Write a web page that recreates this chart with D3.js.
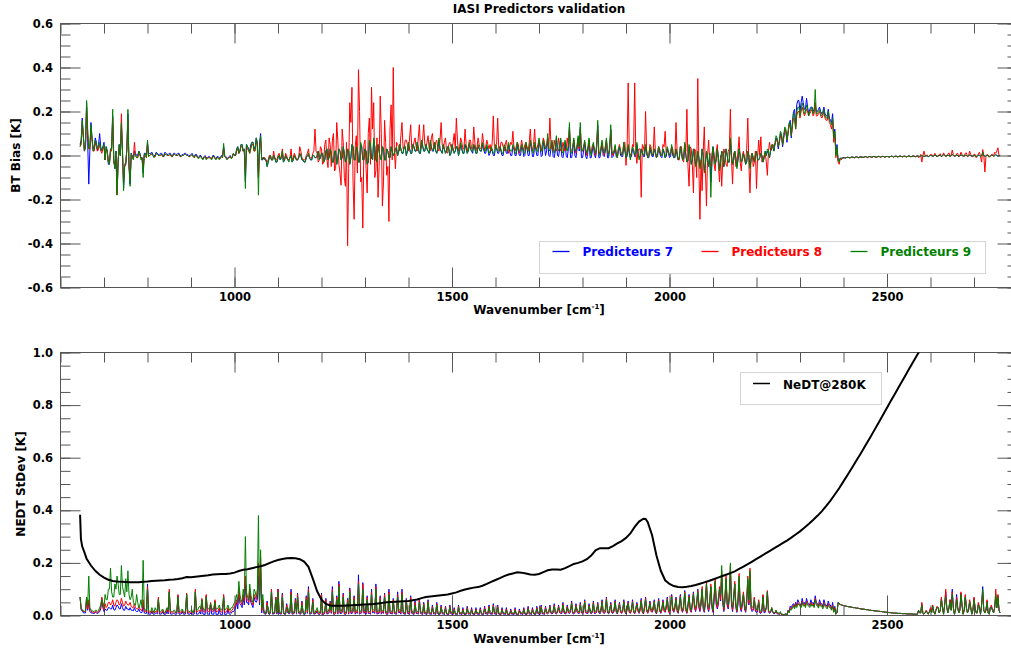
<!DOCTYPE html>
<html>
<head>
<meta charset="utf-8">
<script src="https://cdn.jsdelivr.net/npm/d3@7"></script>
<style>
  body { margin: 0; background: #fff; }
  text { font-family: "DejaVu Sans", sans-serif; font-weight: bold; }
</style>
</head>
<body>
<svg id="chart" width="1011" height="652"></svg>
<script>
// IASI channel grid (cm-1): main channels every 5 cm-1, plus the channels half-way between them
const wavenumbers = d3.range(645, 2761, 5);
const wavenumbersHalf = d3.range(647.5, 2760, 5);

const seriesNames = ["Predicteurs 7", "Predicteurs 8", "Predicteurs 9"];
const seriesColors = ["#0000ff", "#ff0000", "#008000"];

// ---- BT bias [K], main channels ----
const biasP7 = [
  0.05,0.17,0.02,0.24,-0.13,0.15,0.03,0.08,0.02,0.1,0.02,0.06,
  0.04,-0.04,0.03,0.18,-0.06,-0.17,0.05,0.14,-0.15,-0.04,0.19,-0.13,
  0.0,0.02,0.0,0.02,-0.01,-0.08,0.01,0.06,
  0.01,0.015,0.0,0.015,0.005,0.01,0.0,0.015,0.005,0.01,
  0.0,0.01,0.005,0.01,0.0,0.005,0.01,0.005,0.0,0.005,
  0.0,0.005,-0.005,0.0,-0.01,-0.005,-0.01,-0.005,-0.01,0.0,
  -0.01,-0.005,-0.01,0.0,0.04,-0.005,-0.01,0.0,-0.005,
  0.0,0.03,0.01,0.05,0.02,-0.12,0.04,0.02,0.06,0.03,0.08,-0.1,0.1,-0.02,
  -0.02,-0.05,-0.01,-0.02,0.0,-0.03,-0.01,-0.02,0.01,-0.02,-0.01,-0.02,
  0.0,-0.02,-0.01,-0.02,0.01,-0.02,-0.03,-0.01,0.0,-0.02,0.0,-0.01,
  0.0,-0.02,0.01,-0.03,0.02,-0.02,0.03,-0.03,0.02,-0.04,
  0.03,-0.02,0.04,-0.03,0.03,-0.04,0.05,-0.02,0.04,-0.03,
  0.05,-0.02,0.03,-0.04,0.06,-0.01,0.07,-0.02,0.05,-0.01,
  0.04,-0.02,0.03,-0.01,0.04,0.0,
  0.03,0.0,0.05,0.01,0.04,0.0,0.05,0.01,0.05,0.02,
  0.06,0.01,0.06,0.02,0.05,0.02,0.06,0.02,0.06,0.01,
  0.07,0.02,0.05,0.01,0.04,0.0,0.05,0.01,0.04,0.0,
  0.05,0.01,0.05,0.01,0.05,0.02,0.05,0.01,0.04,0.02,
  0.05,0.01,0.04,0.0,
  0.03,0.0,0.04,0.01,0.04,0.0,0.04,0.01,0.05,0.0,
  0.04,0.0,0.05,0.0,0.04,-0.005,0.05,0.0,0.06,-0.005,
  0.05,0.0,0.07,-0.005,0.06,0.0,
  0.08,-0.005,0.06,-0.01,0.08,-0.005,0.07,-0.01,0.06,-0.01,
  0.13,-0.01,0.07,-0.01,0.08,0.13,-0.01,0.06,-0.015,0.07,
  -0.01,0.05,-0.01,0.14,-0.01,0.06,-0.005,0.07,-0.01,0.12,
  -0.005,
  0.04,-0.01,0.04,-0.005,0.05,-0.01,0.04,-0.01,0.03,-0.005,
  0.05,-0.01,0.03,-0.005,0.04,-0.01,0.03,-0.005,0.03,-0.01,
  0.04,-0.005,0.03,-0.01,0.03,-0.01,0.04,-0.01,0.03,-0.02,
  0.04,-0.02,0.05,-0.03,0.04,-0.04,0.03,-0.04,0.02,
  -0.05,0.03,-0.07,0.02,-0.05,-0.12,0.04,-0.04,0.03,-0.06,
  0.02,-0.05,0.03,-0.03,0.06,-0.04,0.02,-0.05,0.03,-0.03,
  0.01,-0.04,0.02,-0.05,0.01,-0.03,0.02,-0.02,0.01,-0.03,
  0.02,
  0.02,-0.01,0.04,0.02,0.08,0.03,0.1,0.04,0.12,0.06,
  0.14,0.08,0.2,0.13,0.25,0.2,0.27,0.21,0.26,0.19,
  0.22,0.2,0.23,0.2,0.22,0.19,0.22,0.18,0.21,0.16,
  0.19,0.12,0.05,-0.02,
  -0.012,-0.01,-0.011,-0.008,-0.01,-0.007,-0.01,-0.006,-0.009,-0.006,
  -0.009,-0.005,-0.008,-0.005,-0.008,-0.004,-0.008,-0.004,-0.007,-0.004,
  -0.007,-0.004,-0.007,-0.003,-0.007,-0.003,-0.006,-0.002,-0.006,-0.003,
  -0.006,-0.002,-0.006,-0.002,-0.005,-0.002,-0.005,0.0,-0.005,-0.001,
  -0.005,0.0,-0.004,0.002,-0.004,0.0,-0.004,0.003,-0.003,0.001,
  -0.004,0.004,-0.003,0.002,-0.004,0.003,-0.002,0.001,-0.004,0.002,
  -0.003,0.0,-0.004,0.002,-0.004,0.01,-0.003,0.002,-0.005,0.001,
  -0.004,0.004,-0.003,0.002
];

const biasP8 = [
  0.04,0.15,0.02,0.22,0.03,0.12,0.02,0.06,0.02,0.05,0.01,0.04,
  0.03,-0.03,0.02,0.17,-0.05,-0.18,0.04,0.19,-0.12,-0.03,0.16,-0.11,
  -0.01,0.06,-0.01,0.01,-0.01,-0.06,0.0,0.05,
  0.0,0.005,-0.005,0.01,0.0,0.0,-0.005,0.005,0.0,0.0,
  -0.005,0.005,0.0,0.0,-0.005,0.0,0.005,0.0,-0.005,0.0,
  -0.005,0.0,-0.01,-0.005,-0.01,-0.01,-0.015,-0.01,-0.01,-0.005,
  -0.01,-0.01,-0.015,-0.005,0.03,-0.01,-0.01,-0.005,-0.01,
  0.0,0.02,0.01,0.04,0.02,-0.08,0.03,0.01,0.05,0.02,0.07,-0.1,0.08,-0.01,
  -0.01,-0.03,0.0,-0.02,0.02,-0.02,0.0,-0.01,0.03,-0.02,0.0,-0.02,
  0.03,-0.01,0.0,-0.02,0.04,-0.01,-0.02,0.0,0.03,-0.01,0.01,0.12,
  0.01,-0.02,0.03,-0.03,0.07,-0.055,0.05,0.07,-0.07,0.15,
  -0.04,-0.135,0.06,-0.14,-0.41,0.24,0.31,-0.29,0.09,0.39,
  -0.12,-0.33,0.07,-0.17,0.17,0.31,0.24,-0.07,-0.19,0.27,
  -0.23,0.16,-0.09,-0.3,0.23,0.4,
  -0.06,0.05,0.02,0.15,0.03,0.07,
  0.02,0.14,0.03,0.08,0.02,0.14,0.04,0.14,0.03,0.09,
  0.02,0.1,0.03,0.07,0.02,0.15,0.03,0.08,0.01,0.06,
  0.02,0.1,0.17,0.02,0.08,0.03,0.12,0.02,0.07,0.03,
  0.13,0.02,0.08,0.03,0.1,0.02,0.07,0.03,
  0.02,0.18,0.03,0.17,0.02,0.06,0.02,0.07,0.01,0.06,
  0.11,0.02,0.06,0.01,0.07,0.02,0.06,0.02,0.12,0.02,
  0.12,0.03,0.07,0.02,0.08,0.03,
  0.08,0.17,0.03,0.07,0.02,0.08,0.02,0.06,0.02,0.08,
  0.12,0.02,0.07,0.01,0.08,0.12,0.02,0.06,0.0,0.07,
  0.01,0.05,0.0,0.12,0.01,0.06,0.0,0.07,0.01,0.11,
  0.0,
  0.04,-0.01,0.05,0.0,0.06,-0.045,0.33,0.0,0.05,0.33,
  -0.036,0.03,-0.19,0.04,0.2,-0.01,0.05,0.0,0.13,-0.01,
  0.04,0.0,0.05,0.11,0.02,0.0,0.04,-0.01,0.15,-0.02,
  0.04,-0.02,0.05,0.21,-0.14,0.03,-0.17,0.02,0.35,
  -0.29,-0.16,0.13,-0.23,0.07,-0.05,0.03,-0.07,0.05,-0.12,
  -0.14,0.03,-0.04,0.02,0.21,-0.13,0.02,-0.04,0.085,-0.07,
  0.02,-0.03,0.17,-0.17,0.01,-0.03,-0.15,0.07,0.085,-0.02,
  0.01,
  -0.09,0.06,0.03,0.04,0.07,0.04,0.09,0.05,0.12,0.07,
  0.14,0.09,0.17,0.12,0.2,0.17,0.22,0.18,0.21,0.18,
  0.2,0.18,0.24,0.18,0.2,0.17,0.2,0.16,0.19,0.14,
  0.16,0.1,0.03,-0.04,
  -0.02,-0.012,-0.01,-0.008,-0.012,-0.007,-0.01,-0.006,-0.011,-0.006,
  -0.009,-0.005,-0.01,-0.005,-0.008,-0.004,-0.009,-0.004,-0.008,-0.004,
  -0.008,-0.004,-0.007,-0.003,-0.008,-0.003,-0.007,-0.002,-0.007,-0.003,
  -0.007,-0.002,-0.006,-0.002,-0.006,0.0,-0.006,-0.03,0.02,-0.003,
  -0.005,0.005,-0.004,0.01,-0.005,0.004,-0.006,0.012,-0.004,0.006,
  -0.004,0.025,-0.003,0.008,-0.006,0.015,-0.003,0.01,-0.005,0.02,
  -0.004,0.006,-0.01,0.008,-0.005,0.027,-0.075,0.005,-0.008,0.003,
  -0.005,0.01,0.035,-0.002
];

const biasP9 = [
  0.04,0.16,0.02,0.25,0.03,0.14,0.02,0.07,0.03,0.06,0.02,0.05,
  0.04,-0.03,0.03,0.21,-0.06,-0.18,0.05,0.15,-0.16,-0.04,0.21,-0.14,
  -0.01,0.01,-0.01,0.02,-0.02,-0.1,0.01,0.07,
  0.0,0.01,-0.01,0.01,0.0,0.005,-0.005,0.01,0.0,0.005,
  -0.005,0.005,0.0,0.005,-0.005,0.0,0.005,0.0,-0.005,0.0,
  -0.005,0.0,-0.01,-0.005,-0.015,-0.01,-0.02,-0.01,-0.015,-0.005,
  -0.015,-0.01,-0.02,-0.005,0.055,-0.01,-0.015,-0.005,-0.01,
  0.0,0.03,0.01,0.05,0.02,-0.15,0.04,0.01,0.06,0.02,0.08,-0.18,0.09,-0.01,
  -0.02,-0.05,-0.01,-0.02,0.0,-0.03,-0.01,-0.02,0.02,-0.02,-0.01,-0.03,
  0.0,-0.02,-0.01,-0.02,0.01,-0.02,-0.03,-0.01,0.01,-0.02,0.0,-0.01,
  0.0,-0.02,0.01,-0.03,0.02,-0.02,0.03,-0.03,0.02,-0.04,
  0.03,-0.02,0.04,-0.03,0.03,-0.04,0.05,-0.02,0.04,-0.03,
  0.06,-0.02,0.03,-0.04,0.07,-0.01,0.08,-0.02,0.05,-0.01,
  0.04,-0.02,0.03,-0.01,0.04,0.0,
  0.03,0.0,0.05,0.01,0.04,0.0,
  0.06,0.01,0.05,0.02,0.06,0.01,0.07,0.02,0.05,0.02,
  0.07,0.02,0.06,0.01,0.08,0.02,0.05,0.01,0.04,0.0,
  0.05,0.01,0.04,0.0,0.06,0.01,0.05,0.01,0.06,0.02,
  0.05,0.01,0.05,0.02,0.06,0.02,0.05,0.01,
  0.04,0.01,0.05,0.02,0.04,0.01,0.05,0.02,0.06,0.02,
  0.05,0.01,0.06,0.02,0.05,0.01,0.06,0.02,0.07,0.02,
  0.06,0.02,0.08,0.02,0.07,0.03,
  0.1,0.02,0.07,0.01,0.09,0.02,0.08,0.01,0.07,0.02,
  0.15,0.01,0.08,0.02,0.09,0.15,0.02,0.07,0.01,0.08,
  0.0,0.06,0.01,0.16,0.0,0.07,0.01,0.08,0.0,0.14,
  0.01,
  0.05,-0.01,0.04,0.0,0.06,-0.01,0.05,-0.02,0.04,0.0,
  0.06,-0.02,0.03,0.0,0.05,-0.01,0.04,0.0,0.03,-0.01,
  0.04,0.0,0.03,-0.01,0.04,0.0,0.05,-0.01,0.03,-0.02,
  0.04,-0.02,0.06,-0.03,0.05,-0.04,0.03,-0.05,0.02,
  -0.06,0.03,-0.08,0.02,-0.05,-0.19,0.04,-0.04,0.03,-0.07,
  0.02,-0.05,0.03,-0.03,0.08,-0.04,0.02,-0.06,0.03,-0.03,
  0.01,-0.04,0.02,-0.06,0.01,-0.03,0.02,-0.02,0.01,-0.03,
  0.02,
  0.03,-0.01,0.05,0.02,0.09,0.04,0.11,0.05,0.13,0.07,
  0.15,0.09,0.19,0.12,0.22,0.18,0.24,0.19,0.23,0.18,
  0.21,0.19,0.3,0.19,0.21,0.18,0.21,0.17,0.2,0.15,
  0.17,0.11,0.04,-0.03,
  -0.015,-0.01,-0.012,-0.008,-0.011,-0.007,-0.01,-0.006,-0.01,-0.006,
  -0.009,-0.005,-0.009,-0.005,-0.008,-0.004,-0.008,-0.004,-0.008,-0.004,
  -0.008,-0.004,-0.007,-0.003,-0.007,-0.003,-0.007,-0.002,-0.006,-0.003,
  -0.007,-0.002,-0.006,-0.002,-0.006,-0.002,-0.005,0.0,-0.005,-0.001,
  -0.005,0.0,-0.004,0.002,-0.004,0.0,-0.004,0.003,-0.003,0.001,
  -0.004,0.004,-0.003,0.002,-0.004,0.003,-0.002,0.001,-0.004,0.002,
  -0.003,0.0,-0.004,0.002,-0.004,0.015,-0.003,0.002,-0.006,0.001,
  -0.004,0.005,-0.003,0.002
];

// ---- BT bias [K], half-step channels ----
const biasP7Half = [
  0.07,0.09,0.04,0.06,0.02,0.08,0.04,0.06,0.05,0.04,0.04,
  -0.02,0.02,-0.04,0.03,-0.02,0.02,-0.03,0.0,0.02,-0.05,0.03,-0.05,
  0.01,-0.01,0.01,0.0,0.01,-0.01,0.01,0.0,
  0.005,0.01,0.005,0.0,0.01,0.005,0.01,0.0,0.01,0.005,
  0.01,0.0,0.01,0.005,0.01,0.0,0.005,0.01,0.005,0.0,
  0.01,-0.005,0.005,-0.01,0.0,-0.015,0.0,-0.01,-0.005,-0.015,
  0.0,-0.015,-0.005,-0.01,-0.005,0.0,-0.015,-0.005,-0.01,
  0.01,0.0,0.04,0.02,0.05,0.03,0.05,0.03,0.05,0.06,0.04,0.06,0.05,-0.02,
  -0.01,-0.02,-0.03,0.0,-0.02,-0.01,-0.03,0.0,-0.01,-0.03,0.0,-0.02,
  -0.01,-0.03,0.0,-0.02,-0.01,0.0,-0.02,-0.03,0.0,-0.01,-0.02,0.0,
  -0.01,0.02,-0.01,0.01,-0.02,0.03,-0.01,0.01,-0.03,0.02,
  -0.01,0.02,-0.01,0.01,-0.02,0.02,-0.01,0.04,-0.02,0.03,
  -0.03,0.04,-0.02,0.02,-0.03,0.05,-0.02,0.04,-0.03,0.02,
  -0.02,0.03,-0.02,0.02,-0.01,0.02,
  0.01,0.03,0.02,0.03,0.01,0.04,0.02,0.03,0.01,0.04,
  0.02,0.03,0.01,0.04,0.02,0.03,0.01,0.04,0.02,0.02,
  0.03,0.03,0.01,0.03,0.02,0.03,0.01,0.03,0.02,0.03,
  0.02,0.03,0.01,0.03,0.02,0.03,0.01,0.03,0.01,0.03,
  0.02,0.03,0.01,0.03,
  0.01,0.02,0.0,0.03,0.01,0.02,0.0,0.03,0.01,0.02,
  0.0,0.03,0.0,0.02,0.0,0.03,0.0,0.03,0.0,0.04,
  -0.005,0.03,0.0,0.04,0.0,0.04,
  0.02,0.0,0.03,-0.005,0.02,0.0,0.03,-0.005,0.02,0.0,
  0.03,-0.01,0.02,0.0,0.03,0.02,-0.01,0.02,-0.005,0.02,
  -0.01,0.02,0.0,0.03,-0.01,0.02,0.0,0.02,-0.01,0.03,
  -0.01,
  0.01,-0.005,0.02,0.0,-0.005,0.02,-0.005,0.01,-0.005,0.02,
  -0.005,0.01,-0.01,0.01,-0.005,0.01,-0.01,0.01,-0.005,0.01,
  -0.005,0.01,-0.01,0.01,-0.005,0.01,-0.005,0.0,-0.01,0.0,
  -0.015,0.01,-0.015,0.0,-0.025,0.0,-0.025,-0.01,-0.03,
  -0.01,-0.03,0.0,-0.04,-0.02,0.01,-0.03,0.0,-0.02,-0.01,
  -0.03,0.01,-0.02,0.0,-0.03,0.0,-0.02,-0.01,-0.02,0.0,
  -0.02,-0.01,-0.03,0.0,-0.02,-0.01,0.0,-0.02,-0.01,0.0,
  -0.01,
  0.0,0.01,0.02,0.04,0.05,0.07,0.06,0.09,0.08,0.11,
  0.1,0.16,0.15,0.21,0.23,0.25,0.24,0.24,0.21,0.22,
  0.21,0.22,0.21,0.2,0.21,0.2,0.2,0.19,0.18,0.17,
  0.15,0.09,0.01,-0.02,
  -0.012,-0.011,-0.01,-0.009,-0.009,-0.008,-0.008,-0.007,-0.008,-0.007,
  -0.007,-0.007,-0.006,-0.006,-0.006,-0.006,-0.006,-0.006,-0.005,-0.005,
  -0.005,-0.005,-0.005,-0.005,-0.004,-0.004,-0.004,-0.004,-0.004,-0.004,
  -0.004,-0.004,-0.003,-0.004,-0.003,-0.003,-0.003,-0.002,-0.003,-0.002,
  -0.002,-0.002,-0.001,-0.002,-0.001,-0.002,0.0,-0.001,0.0,-0.001,
  0.0,-0.001,0.0,-0.001,0.0,-0.001,0.0,-0.002,0.0,-0.001,
  -0.001,-0.002,-0.001,-0.002,0.0,-0.002,-0.001,-0.003,-0.001,-0.002,
  0.0,-0.001,0.0,-0.001
];

const biasP8Half = [
  0.05,0.08,0.04,0.1,0.03,0.07,0.02,0.04,0.03,0.02,0.03,
  -0.02,0.02,-0.03,0.02,-0.03,0.01,-0.02,0.0,0.01,-0.04,0.02,-0.04,
  0.0,-0.01,0.0,-0.01,0.0,-0.01,0.0,-0.01,
  -0.005,0.005,0.0,-0.005,0.005,0.0,0.005,-0.005,0.005,0.0,
  0.005,-0.005,0.005,0.0,0.005,-0.005,0.0,0.005,0.0,-0.005,
  0.005,-0.01,0.0,-0.01,-0.005,-0.015,-0.005,-0.01,-0.01,-0.015,
  -0.005,-0.015,-0.01,-0.01,-0.01,-0.005,-0.015,-0.01,-0.01,
  0.01,0.0,0.03,0.02,0.04,0.02,0.04,0.02,0.03,0.05,0.02,0.04,0.03,-0.02,
  -0.01,-0.02,-0.02,0.0,-0.02,-0.01,-0.02,0.01,-0.01,-0.02,0.01,-0.02,
  -0.01,-0.02,0.01,-0.02,-0.01,0.02,-0.02,-0.02,0.01,-0.01,-0.01,0.02,
  0.02,-0.03,0.04,-0.04,0.05,-0.02,0.08,-0.05,0.1,-0.06,
  0.07,-0.08,0.12,-0.1,0.06,-0.06,0.15,-0.12,0.04,-0.08,
  0.2,-0.1,0.05,-0.06,0.1,-0.04,0.12,-0.1,0.08,-0.05,
  0.1,-0.12,0.06,-0.05,0.12,-0.02,
  0.02,0.06,0.04,0.09,0.03,0.07,0.05,0.08,0.03,0.06,
  0.04,0.08,0.03,0.07,0.05,0.06,0.03,0.08,0.04,0.06,
  0.03,0.07,0.05,0.06,0.02,0.05,0.04,0.06,0.03,0.07,
  0.04,0.06,0.03,0.05,0.04,0.07,0.03,0.06,0.04,0.05,
  0.03,0.06,0.04,0.05,
  0.05,0.06,0.04,0.05,0.03,0.06,0.04,0.05,0.03,0.04,
  0.05,0.03,0.04,0.05,0.03,0.04,0.05,0.03,0.06,0.04,
  0.05,0.03,0.05,0.04,0.05,0.06,
  0.04,0.03,0.05,0.02,0.04,0.03,0.04,0.02,0.04,0.03,
  0.04,0.02,0.04,0.03,0.04,0.03,0.02,0.04,0.02,0.03,
  0.02,0.04,0.02,0.04,0.01,0.03,0.02,0.04,0.01,0.03,
  0.02,
  0.02,0.01,0.03,0.02,0.01,0.06,0.03,0.02,0.01,0.04,
  0.01,0.02,0.03,0.05,0.01,0.02,0.0,0.04,0.01,0.02,
  0.01,0.03,0.0,0.04,0.01,0.02,0.01,0.03,0.0,0.02,
  -0.02,0.04,-0.03,0.02,-0.05,0.04,-0.04,0.03,-0.1,
  -0.05,-0.02,0.02,-0.06,0.0,-0.03,0.01,-0.04,0.02,-0.05,
  0.0,-0.02,0.01,-0.05,0.03,-0.02,0.01,-0.05,0.02,-0.03,
  0.0,-0.02,0.03,-0.04,0.0,-0.05,0.02,-0.01,0.0,-0.03,
  0.0,
  -0.03,0.02,0.02,0.05,0.05,0.07,0.06,0.09,0.08,0.11,
  0.1,0.13,0.13,0.17,0.18,0.2,0.2,0.2,0.19,0.2,
  0.19,0.21,0.19,0.18,0.19,0.18,0.18,0.17,0.16,0.15,
  0.12,0.06,-0.01,-0.03,
  -0.014,-0.011,-0.011,-0.009,-0.01,-0.008,-0.009,-0.007,-0.008,-0.007,
  -0.008,-0.007,-0.006,-0.007,-0.006,-0.006,-0.007,-0.006,-0.005,-0.006,
  -0.005,-0.006,-0.005,-0.005,-0.004,-0.005,-0.004,-0.005,-0.004,-0.004,
  -0.005,-0.004,-0.003,-0.004,-0.003,-0.004,-0.01,0.005,-0.003,0.0,
  0.003,-0.002,0.006,-0.002,0.002,-0.003,0.008,-0.001,0.003,-0.002,
  0.012,-0.001,0.004,-0.003,0.01,-0.001,0.005,-0.004,0.012,-0.002,
  0.004,-0.006,0.005,-0.004,0.015,-0.03,0.002,-0.005,0.002,-0.003,
  0.006,0.015,0.02,-0.001
];

const biasP9Half = [
  0.06,0.09,0.05,0.12,0.04,0.08,0.03,0.05,0.04,0.03,0.04,
  -0.02,0.02,-0.04,0.03,-0.02,0.02,-0.03,0.0,0.02,-0.05,0.03,-0.05,
  0.01,-0.02,0.0,-0.01,0.01,-0.01,0.0,-0.01,
  -0.005,0.005,0.0,-0.005,0.005,0.0,0.005,-0.005,0.005,0.0,
  0.005,-0.005,0.005,0.0,0.005,-0.005,0.0,0.005,0.0,-0.005,
  0.005,-0.01,0.0,-0.015,-0.005,-0.02,-0.005,-0.015,-0.01,-0.02,
  -0.005,-0.02,-0.01,-0.015,-0.01,-0.005,-0.02,-0.01,-0.015,
  0.01,0.0,0.04,0.02,0.05,0.03,0.05,0.03,0.04,0.06,0.03,0.05,0.04,-0.02,
  -0.01,-0.02,-0.03,0.0,-0.02,-0.01,-0.03,0.0,-0.01,-0.03,0.0,-0.02,
  -0.01,-0.03,0.0,-0.02,-0.01,0.0,-0.02,-0.03,0.0,-0.01,-0.02,0.0,
  -0.01,0.02,-0.01,0.01,-0.02,0.03,-0.01,0.01,-0.03,0.02,
  -0.01,0.02,-0.01,0.01,-0.02,0.02,-0.01,0.04,-0.02,0.03,
  -0.03,0.04,-0.02,0.02,-0.03,0.05,-0.02,0.04,-0.03,0.02,
  -0.02,0.03,-0.02,0.02,-0.01,0.02,
  0.01,0.04,0.02,0.03,0.01,0.04,0.02,0.03,0.01,0.04,
  0.02,0.04,0.01,0.05,0.02,0.03,0.01,0.04,0.03,0.02,
  0.04,0.03,0.01,0.03,0.02,0.04,0.01,0.03,0.02,0.04,
  0.02,0.03,0.01,0.04,0.02,0.03,0.02,0.04,0.01,0.03,
  0.02,0.04,0.02,0.03,
  0.02,0.03,0.01,0.04,0.02,0.03,0.01,0.04,0.02,0.03,
  0.02,0.04,0.01,0.03,0.02,0.04,0.01,0.04,0.02,0.05,
  0.01,0.04,0.02,0.05,0.02,0.05,
  0.04,0.03,0.05,0.02,0.04,0.03,0.05,0.02,0.04,0.03,
  0.05,0.02,0.04,0.03,0.05,0.04,0.02,0.04,0.03,0.04,
  0.02,0.04,0.03,0.05,0.02,0.04,0.03,0.04,0.02,0.05,
  0.02,
  0.02,0.01,0.03,0.02,0.01,0.03,0.01,0.02,0.01,0.03,
  0.01,0.02,0.0,0.02,0.01,0.02,0.0,0.02,0.01,0.02,
  0.01,0.02,0.0,0.02,0.01,0.02,0.01,0.01,0.0,0.01,
  -0.01,0.02,-0.01,0.01,-0.02,0.01,-0.02,0.0,-0.03,
  -0.01,-0.03,0.0,-0.04,-0.02,0.01,-0.03,0.0,-0.02,-0.01,
  -0.03,0.01,-0.02,0.0,-0.03,0.0,-0.02,-0.01,-0.02,0.0,
  -0.02,-0.01,-0.03,0.0,-0.02,-0.01,0.0,-0.02,-0.01,0.0,
  -0.01,
  0.0,0.02,0.03,0.05,0.06,0.08,0.07,0.1,0.09,0.12,
  0.11,0.15,0.14,0.19,0.2,0.22,0.21,0.22,0.2,0.21,
  0.2,0.22,0.2,0.19,0.2,0.19,0.19,0.18,0.17,0.16,
  0.14,0.08,0.0,-0.02,
  -0.012,-0.011,-0.01,-0.009,-0.009,-0.008,-0.008,-0.007,-0.008,-0.007,
  -0.007,-0.007,-0.006,-0.006,-0.006,-0.006,-0.006,-0.006,-0.005,-0.005,
  -0.005,-0.005,-0.005,-0.005,-0.004,-0.004,-0.004,-0.004,-0.004,-0.004,
  -0.004,-0.004,-0.003,-0.004,-0.003,-0.003,-0.003,-0.002,-0.003,-0.002,
  -0.002,-0.002,-0.001,-0.002,-0.001,-0.002,0.0,-0.001,0.0,-0.001,
  0.0,-0.001,0.0,-0.001,0.0,-0.001,0.0,-0.002,0.0,-0.001,
  -0.001,-0.002,-0.001,-0.002,0.0,-0.002,-0.001,-0.003,-0.001,-0.002,
  0.0,-0.001,0.0,-0.001
];

// ---- NEDT standard deviation [K], main channels ----
const stdP7 = [
  0.07,0.02,0.01,0.06,0.05,0.01,0.008,0.012,0.008,0.015,0.065,0.015,
  0.02,0.03,0.025,0.04,0.02,0.04,0.025,0.045,0.02,0.035,0.025,0.03,
  0.02,0.03,0.015,0.025,0.01,0.04,0.008,0.12,
  0.005,0.015,0.004,0.01,0.06,0.005,0.015,0.004,0.02,0.09,
  0.005,0.01,0.004,0.075,0.005,0.015,0.004,0.08,0.005,0.01,
  0.004,0.09,0.005,0.015,0.06,0.005,0.075,0.005,0.045,0.005,
  0.055,0.005,0.025,0.004,0.075,0.004,0.025,0.004,0.015,
  0.02,0.05,0.09,0.04,0.07,0.12,0.05,0.09,0.04,0.07,0.05,0.15,0.18,0.05,
  0.006,0.055,0.004,0.1,0.006,0.07,0.1,0.006,0.085,0.004,0.045,0.006,
  0.1,0.006,0.065,0.085,0.006,0.055,0.004,0.075,0.11,0.006,0.065,0.006,
  0.015,0.004,0.085,0.004,0.065,0.008,0.055,0.11,0.004,0.075,
  0.13,0.008,0.085,0.004,0.065,0.105,0.008,0.075,0.012,0.155,
  0.008,0.125,0.012,0.075,0.008,0.1,0.012,0.12,0.008,0.075,
  0.012,0.085,0.004,0.1,0.008,0.065,
  0.006,0.09,0.012,0.1,0.006,0.065,0.008,0.075,0.006,0.055,
  0.008,0.065,0.006,0.05,0.006,0.06,0.006,0.04,0.006,0.05,
  0.003,0.04,0.006,0.035,0.003,0.04,0.006,0.03,0.003,0.04,
  0.006,0.03,0.003,0.035,0.006,0.03,0.003,0.03,0.006,0.03,
  0.003,0.035,0.006,0.04,
  0.006,0.045,0.006,0.04,0.003,0.03,0.006,0.03,0.003,0.025,
  0.006,0.03,0.003,0.025,0.006,0.03,0.003,0.035,0.006,0.03,
  0.003,0.035,0.006,0.04,0.006,0.035,
  0.006,0.04,0.006,0.045,0.006,0.04,0.008,0.05,0.006,0.04,
  0.008,0.055,0.006,0.045,0.008,0.05,0.006,0.06,0.008,0.045,
  0.006,0.055,0.008,0.05,0.006,0.06,0.008,0.07,0.006,0.05,
  0.008,
  0.06,0.006,0.05,0.008,0.06,0.006,0.055,0.008,0.06,0.006,
  0.05,0.008,0.065,0.006,0.07,0.008,0.055,0.012,0.06,0.006,
  0.065,0.008,0.06,0.012,0.07,0.008,0.08,0.012,0.07,0.008,
  0.08,0.012,0.095,0.008,0.08,0.012,0.09,0.015,0.1,
  0.015,0.1,0.012,0.12,0.015,0.11,0.012,0.13,0.025,0.105,
  0.15,0.015,0.14,0.025,0.17,0.015,0.12,0.012,0.14,0.015,
  0.085,0.012,0.13,0.16,0.015,0.065,0.012,0.055,0.008,0.075,
  0.012,
  0.09,0.008,0.025,0.006,0.018,0.006,0.008,0.003,0.003,0.002,
  0.015,0.03,0.045,0.05,0.06,0.045,0.065,0.05,0.065,0.045,
  0.06,0.05,0.075,0.045,0.06,0.045,0.06,0.04,0.055,0.04,
  0.05,0.035,0.01,0.045,
  0.04,0.038,0.036,0.034,0.033,0.031,0.03,0.028,0.027,0.025,
  0.024,0.023,0.022,0.02,0.019,0.018,0.017,0.016,0.015,0.014,
  0.013,0.012,0.011,0.01,0.009,0.009,0.008,0.008,0.007,0.007,
  0.006,0.006,0.006,0.005,0.005,0.005,0.01,0.045,0.005,0.018,
  0.005,0.025,0.038,0.005,0.032,0.01,0.065,0.005,0.09,0.01,
  0.06,0.1,0.005,0.08,0.01,0.085,0.005,0.075,0.01,0.055,
  0.005,0.065,0.01,0.045,0.005,0.11,0.01,0.055,0.005,0.035,
  0.01,0.07,0.075,0.01
];

const stdP8 = [
  0.07,0.02,0.015,0.07,0.06,0.015,0.01,0.015,0.01,0.02,0.07,0.02,
  0.03,0.05,0.04,0.06,0.035,0.06,0.04,0.065,0.035,0.055,0.04,0.05,
  0.03,0.045,0.025,0.035,0.02,0.06,0.015,0.11,
  0.01,0.02,0.008,0.015,0.07,0.01,0.02,0.008,0.025,0.1,
  0.01,0.015,0.008,0.08,0.01,0.02,0.008,0.085,0.01,0.015,
  0.008,0.1,0.015,0.02,0.065,0.015,0.08,0.015,0.05,0.015,
  0.06,0.015,0.03,0.012,0.08,0.012,0.03,0.01,0.02,
  0.03,0.06,0.1,0.05,0.08,0.15,0.06,0.1,0.05,0.08,0.06,0.2,0.22,0.06,
  0.008,0.05,0.005,0.1,0.008,0.07,0.1,0.008,0.08,0.005,0.04,0.008,
  0.09,0.008,0.06,0.08,0.008,0.05,0.005,0.07,0.1,0.008,0.06,0.008,
  0.02,0.005,0.08,0.005,0.06,0.01,0.05,0.1,0.005,0.07,
  0.12,0.01,0.08,0.005,0.06,0.1,0.01,0.07,0.015,0.13,
  0.01,0.12,0.015,0.07,0.01,0.09,0.015,0.11,0.01,0.07,
  0.015,0.08,0.005,0.09,0.01,0.06,
  0.008,0.08,0.015,0.09,0.008,0.06,0.01,0.07,0.008,0.05,
  0.01,0.06,0.008,0.045,0.008,0.055,0.008,0.035,0.008,0.045,
  0.004,0.035,0.008,0.03,0.004,0.035,0.008,0.025,0.004,0.035,
  0.008,0.025,0.004,0.03,0.008,0.025,0.004,0.025,0.008,0.025,
  0.004,0.03,0.008,0.035,
  0.008,0.04,0.008,0.035,0.004,0.025,0.008,0.025,0.004,0.02,
  0.008,0.025,0.004,0.02,0.008,0.025,0.004,0.03,0.008,0.025,
  0.004,0.03,0.008,0.035,0.008,0.03,
  0.008,0.035,0.008,0.04,0.008,0.035,0.01,0.045,0.008,0.035,
  0.01,0.05,0.008,0.04,0.01,0.045,0.008,0.055,0.01,0.04,
  0.008,0.05,0.01,0.045,0.008,0.055,0.01,0.065,0.008,0.045,
  0.01,
  0.055,0.008,0.045,0.01,0.055,0.008,0.05,0.01,0.055,0.008,
  0.045,0.01,0.06,0.008,0.065,0.01,0.05,0.015,0.055,0.008,
  0.06,0.01,0.055,0.015,0.065,0.01,0.075,0.015,0.065,0.01,
  0.075,0.015,0.09,0.01,0.075,0.015,0.085,0.02,0.095,
  0.02,0.11,0.015,0.13,0.02,0.12,0.015,0.14,0.03,0.11,
  0.17,0.02,0.15,0.03,0.19,0.02,0.13,0.015,0.16,0.02,
  0.09,0.015,0.15,0.18,0.02,0.07,0.015,0.06,0.01,0.08,
  0.015,
  0.095,0.01,0.03,0.008,0.02,0.008,0.01,0.004,0.003,0.002,
  0.012,0.025,0.04,0.045,0.05,0.04,0.055,0.045,0.055,0.04,
  0.05,0.045,0.065,0.04,0.05,0.04,0.05,0.035,0.045,0.035,
  0.04,0.03,0.01,0.045,
  0.04,0.038,0.036,0.034,0.033,0.031,0.03,0.028,0.027,0.025,
  0.024,0.023,0.022,0.02,0.019,0.018,0.017,0.016,0.015,0.014,
  0.013,0.012,0.011,0.01,0.009,0.009,0.008,0.008,0.007,0.007,
  0.006,0.006,0.006,0.005,0.005,0.005,0.012,0.05,0.005,0.02,
  0.005,0.03,0.04,0.005,0.035,0.01,0.07,0.005,0.1,0.01,
  0.06,0.09,0.005,0.07,0.01,0.09,0.005,0.08,0.01,0.06,
  0.005,0.07,0.01,0.05,0.005,0.09,0.01,0.06,0.005,0.04,
  0.01,0.1,0.08,0.01
];

const stdP9 = [
  0.07,0.02,0.015,0.07,0.15,0.02,0.015,0.02,0.015,0.03,0.06,0.03,
  0.06,0.1,0.18,0.07,0.12,0.15,0.08,0.19,0.09,0.14,0.17,0.06,
  0.1,0.04,0.08,0.03,0.06,0.21,0.02,0.1,
  0.015,0.03,0.01,0.02,0.06,0.015,0.025,0.01,0.03,0.09,
  0.015,0.02,0.01,0.07,0.015,0.025,0.01,0.08,0.015,0.02,
  0.01,0.09,0.02,0.035,0.06,0.02,0.07,0.025,0.045,0.02,
  0.05,0.025,0.04,0.02,0.07,0.025,0.04,0.02,0.03,
  0.05,0.08,0.13,0.06,0.1,0.3,0.07,0.12,0.06,0.1,0.07,0.38,0.25,0.08,
  0.01,0.04,0.005,0.09,0.01,0.06,0.09,0.01,0.07,0.005,0.03,0.01,
  0.08,0.01,0.05,0.07,0.01,0.04,0.005,0.06,0.09,0.01,0.05,0.01,
  0.03,0.01,0.07,0.01,0.05,0.015,0.04,0.09,0.01,0.06,
  0.11,0.015,0.07,0.01,0.05,0.09,0.015,0.06,0.02,0.12,
  0.015,0.1,0.02,0.06,0.015,0.08,0.02,0.1,0.015,0.06,
  0.02,0.07,0.01,0.08,0.015,0.05,
  0.01,0.07,0.02,0.08,0.01,0.05,0.015,0.06,0.01,0.04,
  0.015,0.05,0.01,0.04,0.01,0.05,0.01,0.03,0.01,0.04,
  0.005,0.03,0.01,0.025,0.005,0.03,0.01,0.02,0.005,0.03,
  0.01,0.02,0.005,0.025,0.01,0.02,0.005,0.02,0.01,0.02,
  0.005,0.025,0.01,0.03,
  0.01,0.035,0.01,0.03,0.005,0.02,0.01,0.02,0.005,0.015,
  0.01,0.02,0.005,0.015,0.01,0.02,0.005,0.025,0.01,0.02,
  0.005,0.025,0.01,0.03,0.01,0.025,
  0.01,0.03,0.01,0.035,0.01,0.03,0.015,0.04,0.01,0.03,
  0.015,0.045,0.01,0.035,0.015,0.04,0.01,0.05,0.015,0.035,
  0.01,0.045,0.015,0.04,0.01,0.05,0.015,0.06,0.01,0.04,
  0.015,
  0.05,0.01,0.04,0.015,0.05,0.01,0.045,0.015,0.05,0.01,
  0.04,0.015,0.055,0.01,0.06,0.015,0.045,0.02,0.05,0.01,
  0.055,0.015,0.05,0.02,0.06,0.015,0.07,0.02,0.06,0.015,
  0.07,0.02,0.085,0.015,0.07,0.02,0.08,0.03,0.09,
  0.03,0.1,0.02,0.12,0.03,0.11,0.02,0.13,0.04,0.1,
  0.19,0.03,0.14,0.04,0.2,0.03,0.12,0.02,0.15,0.03,
  0.08,0.02,0.14,0.17,0.03,0.06,0.02,0.05,0.015,0.07,
  0.02,
  0.09,0.015,0.03,0.01,0.02,0.01,0.015,0.005,0.005,0.002,
  0.01,0.02,0.035,0.04,0.045,0.035,0.05,0.04,0.05,0.035,
  0.045,0.04,0.06,0.035,0.045,0.035,0.045,0.03,0.04,0.03,
  0.035,0.025,0.01,0.045,
  0.04,0.038,0.036,0.034,0.033,0.031,0.03,0.028,0.027,0.025,
  0.024,0.023,0.022,0.02,0.019,0.018,0.017,0.016,0.015,0.014,
  0.013,0.012,0.011,0.01,0.009,0.009,0.008,0.008,0.007,0.007,
  0.006,0.006,0.006,0.005,0.005,0.005,0.01,0.04,0.005,0.015,
  0.005,0.02,0.035,0.005,0.03,0.01,0.06,0.005,0.07,0.01,
  0.05,0.08,0.005,0.06,0.01,0.08,0.005,0.07,0.01,0.05,
  0.005,0.06,0.01,0.04,0.005,0.1,0.01,0.05,0.005,0.03,
  0.01,0.08,0.07,0.01
];

// ---- NEDT standard deviation [K], half-step channels ----
const stdP7Half = [
  0.02,0.01,0.01,0.02,0.015,0.01,0.008,0.01,0.01,0.025,0.03,
  0.025,0.02,0.03,0.025,0.022,0.03,0.035,0.025,0.03,0.02,0.025,0.02,
  0.02,0.018,0.018,0.015,0.015,0.012,0.01,0.008,
  0.006,0.005,0.006,0.008,0.006,0.005,0.006,0.005,0.006,0.006,
  0.006,0.005,0.006,0.006,0.005,0.006,0.005,0.006,0.006,0.005,
  0.006,0.006,0.005,0.006,0.005,0.005,0.004,0.005,0.004,0.005,
  0.004,0.004,0.004,0.004,0.004,0.004,0.005,0.006,0.008,
  0.015,0.03,0.025,0.045,0.03,0.04,0.05,0.04,0.05,0.03,0.055,0.06,0.04,0.01,
  0.008,0.005,0.01,0.008,0.005,0.008,0.005,0.008,0.005,0.008,0.005,0.01,
  0.008,0.005,0.008,0.005,0.008,0.005,0.008,0.005,0.008,0.005,0.008,0.005,
  0.008,0.005,0.008,0.004,0.008,0.005,0.01,0.008,0.005,0.008,
  0.005,0.008,0.01,0.005,0.008,0.005,0.008,0.012,0.005,0.008,
  0.005,0.01,0.008,0.005,0.008,0.005,0.01,0.008,0.005,0.008,
  0.005,0.008,0.008,0.005,0.008,0.005,
  0.008,0.005,0.01,0.005,0.008,0.004,0.008,0.005,0.008,0.004,
  0.008,0.005,0.008,0.004,0.006,0.004,0.006,0.004,0.006,0.004,
  0.006,0.004,0.006,0.003,0.005,0.004,0.006,0.003,0.005,0.004,
  0.005,0.003,0.005,0.004,0.005,0.003,0.005,0.004,0.005,0.003,
  0.005,0.004,0.006,0.004,
  0.006,0.004,0.006,0.004,0.005,0.003,0.005,0.003,0.004,0.003,
  0.004,0.003,0.004,0.003,0.005,0.003,0.005,0.004,0.005,0.003,
  0.006,0.004,0.006,0.004,0.006,0.004,
  0.008,0.01,0.008,0.01,0.008,0.01,0.01,0.008,0.01,0.008,
  0.01,0.012,0.008,0.01,0.012,0.008,0.01,0.012,0.01,0.008,
  0.012,0.01,0.008,0.012,0.01,0.015,0.01,0.012,0.01,0.015,
  0.01,
  0.02,0.015,0.025,0.015,0.02,0.015,0.025,0.015,0.02,0.015,
  0.025,0.02,0.025,0.015,0.03,0.02,0.025,0.02,0.03,0.015,
  0.03,0.02,0.025,0.02,0.035,0.02,0.035,0.025,0.035,0.02,
  0.04,0.025,0.035,0.025,0.04,0.025,0.045,0.035,0.045,
  0.03,0.04,0.025,0.045,0.03,0.04,0.03,0.055,0.04,0.045,
  0.055,0.045,0.055,0.04,0.065,0.04,0.055,0.03,0.045,0.03,
  0.04,0.025,0.045,0.04,0.025,0.02,0.015,0.015,0.01,0.015,
  0.01,
  0.03,0.015,0.012,0.012,0.008,0.006,0.004,0.003,0.002,0.008,
  0.02,0.035,0.04,0.035,0.04,0.05,0.04,0.045,0.04,0.05,
  0.04,0.045,0.04,0.05,0.038,0.045,0.035,0.045,0.035,0.04,
  0.025,0.015,0.005,0.05,
  0.042,0.039,0.037,0.035,0.033,0.032,0.03,0.029,0.028,0.026,
  0.025,0.024,0.022,0.021,0.02,0.019,0.018,0.017,0.016,0.015,
  0.014,0.013,0.012,0.011,0.01,0.009,0.009,0.008,0.008,0.007,
  0.007,0.006,0.006,0.006,0.005,0.005,0.02,0.01,0.008,0.01,
  0.012,0.015,0.01,0.015,0.02,0.03,0.02,0.03,0.04,0.03,
  0.03,0.02,0.03,0.02,0.03,0.02,0.04,0.02,0.03,0.02,
  0.03,0.02,0.03,0.01,0.03,0.04,0.02,0.02,0.01,0.03,
  0.02,0.03,0.03,0.02
];

const stdP8Half = [
  0.025,0.015,0.015,0.025,0.02,0.015,0.01,0.015,0.015,0.03,0.035,
  0.045,0.035,0.05,0.045,0.04,0.05,0.055,0.045,0.05,0.04,0.045,0.04,
  0.035,0.03,0.03,0.025,0.025,0.02,0.015,0.015,
  0.012,0.01,0.012,0.015,0.012,0.01,0.012,0.01,0.012,0.012,
  0.012,0.01,0.012,0.012,0.01,0.012,0.01,0.012,0.012,0.01,
  0.012,0.015,0.012,0.018,0.015,0.018,0.012,0.018,0.015,0.018,
  0.018,0.015,0.018,0.015,0.018,0.012,0.018,0.015,0.018,
  0.03,0.045,0.04,0.06,0.04,0.055,0.07,0.05,0.06,0.04,0.07,0.08,0.05,0.02,
  0.012,0.008,0.015,0.012,0.008,0.012,0.008,0.012,0.008,0.012,0.008,0.015,
  0.012,0.008,0.012,0.008,0.012,0.008,0.012,0.008,0.012,0.008,0.012,0.008,
  0.012,0.008,0.012,0.006,0.012,0.008,0.015,0.012,0.008,0.012,
  0.008,0.012,0.015,0.008,0.012,0.008,0.012,0.018,0.008,0.012,
  0.008,0.015,0.012,0.008,0.012,0.008,0.015,0.012,0.008,0.012,
  0.008,0.012,0.012,0.008,0.012,0.008,
  0.012,0.008,0.015,0.008,0.012,0.006,0.012,0.008,0.012,0.006,
  0.012,0.008,0.012,0.006,0.01,0.006,0.01,0.006,0.01,0.006,
  0.01,0.006,0.01,0.005,0.008,0.006,0.01,0.005,0.008,0.006,
  0.008,0.005,0.008,0.006,0.008,0.005,0.008,0.006,0.008,0.005,
  0.008,0.006,0.01,0.006,
  0.01,0.006,0.01,0.006,0.008,0.005,0.008,0.005,0.006,0.005,
  0.006,0.005,0.006,0.005,0.008,0.005,0.008,0.006,0.008,0.005,
  0.01,0.006,0.01,0.006,0.01,0.006,
  0.01,0.012,0.01,0.012,0.01,0.012,0.012,0.01,0.012,0.01,
  0.012,0.015,0.01,0.012,0.015,0.01,0.012,0.015,0.012,0.01,
  0.015,0.012,0.01,0.015,0.012,0.018,0.012,0.015,0.012,0.018,
  0.012,
  0.015,0.012,0.018,0.012,0.015,0.012,0.018,0.012,0.015,0.012,
  0.018,0.015,0.018,0.012,0.02,0.015,0.018,0.015,0.02,0.012,
  0.02,0.015,0.018,0.015,0.025,0.015,0.025,0.018,0.025,0.015,
  0.03,0.018,0.025,0.018,0.03,0.018,0.035,0.025,0.035,
  0.035,0.045,0.03,0.05,0.035,0.045,0.035,0.06,0.045,0.05,
  0.06,0.05,0.06,0.045,0.07,0.045,0.06,0.035,0.05,0.035,
  0.045,0.03,0.05,0.045,0.03,0.025,0.02,0.02,0.015,0.02,
  0.015,
  0.03,0.018,0.014,0.014,0.01,0.008,0.005,0.003,0.002,0.006,
  0.018,0.03,0.032,0.03,0.035,0.045,0.035,0.04,0.035,0.045,
  0.035,0.04,0.035,0.045,0.033,0.04,0.03,0.04,0.03,0.035,
  0.022,0.015,0.005,0.048,
  0.042,0.039,0.037,0.035,0.033,0.032,0.03,0.029,0.028,0.026,
  0.025,0.024,0.022,0.021,0.02,0.019,0.018,0.017,0.016,0.015,
  0.014,0.013,0.012,0.011,0.01,0.009,0.009,0.008,0.008,0.007,
  0.007,0.006,0.006,0.006,0.005,0.005,0.02,0.01,0.008,0.01,
  0.012,0.015,0.01,0.015,0.02,0.03,0.02,0.03,0.04,0.03,
  0.03,0.02,0.03,0.02,0.03,0.02,0.04,0.02,0.03,0.02,
  0.03,0.02,0.03,0.01,0.03,0.04,0.02,0.02,0.01,0.03,
  0.02,0.03,0.03,0.02
];

const stdP9Half = [
  0.03,0.02,0.02,0.04,0.03,0.02,0.015,0.02,0.02,0.04,0.05,
  0.08,0.06,0.1,0.09,0.07,0.1,0.12,0.08,0.11,0.07,0.09,0.08,
  0.07,0.05,0.04,0.05,0.04,0.03,0.03,0.02,
  0.02,0.015,0.02,0.03,0.02,0.015,0.02,0.015,0.02,0.02,
  0.02,0.015,0.02,0.02,0.015,0.02,0.015,0.02,0.02,0.015,
  0.02,0.025,0.02,0.03,0.025,0.03,0.02,0.03,0.025,0.03,
  0.03,0.025,0.03,0.025,0.03,0.02,0.03,0.025,0.03,
  0.04,0.06,0.05,0.08,0.05,0.07,0.09,0.06,0.08,0.05,0.09,0.1,0.06,0.03,
  0.02,0.01,0.03,0.02,0.01,0.02,0.01,0.02,0.01,0.02,0.01,0.03,
  0.02,0.01,0.02,0.01,0.02,0.01,0.02,0.01,0.02,0.01,0.02,0.01,
  0.02,0.015,0.02,0.01,0.02,0.015,0.025,0.02,0.015,0.02,
  0.015,0.02,0.025,0.015,0.02,0.015,0.02,0.03,0.015,0.02,
  0.015,0.025,0.02,0.015,0.02,0.015,0.025,0.02,0.015,0.02,
  0.015,0.02,0.02,0.015,0.02,0.015,
  0.02,0.015,0.025,0.015,0.02,0.01,0.02,0.015,0.02,0.01,
  0.02,0.015,0.02,0.01,0.015,0.01,0.015,0.01,0.015,0.01,
  0.015,0.01,0.015,0.008,0.012,0.01,0.015,0.008,0.012,0.01,
  0.012,0.008,0.012,0.01,0.012,0.008,0.012,0.01,0.012,0.008,
  0.012,0.01,0.015,0.01,
  0.015,0.01,0.015,0.01,0.012,0.008,0.012,0.008,0.01,0.008,
  0.01,0.008,0.01,0.008,0.012,0.008,0.012,0.01,0.012,0.008,
  0.015,0.01,0.015,0.01,0.015,0.01,
  0.015,0.02,0.015,0.02,0.015,0.02,0.02,0.015,0.02,0.015,
  0.02,0.025,0.015,0.02,0.025,0.015,0.02,0.025,0.02,0.015,
  0.025,0.02,0.015,0.025,0.02,0.03,0.02,0.025,0.02,0.03,
  0.02,
  0.025,0.02,0.03,0.02,0.025,0.02,0.03,0.02,0.025,0.02,
  0.03,0.025,0.03,0.02,0.035,0.025,0.03,0.025,0.035,0.02,
  0.035,0.025,0.03,0.025,0.04,0.025,0.04,0.03,0.04,0.025,
  0.045,0.03,0.04,0.03,0.045,0.03,0.05,0.04,0.05,
  0.05,0.06,0.04,0.07,0.05,0.06,0.05,0.08,0.06,0.07,
  0.08,0.07,0.08,0.06,0.09,0.06,0.08,0.05,0.07,0.05,
  0.06,0.04,0.07,0.06,0.04,0.035,0.03,0.03,0.02,0.03,
  0.02,
  0.03,0.02,0.015,0.015,0.012,0.01,0.008,0.004,0.003,0.005,
  0.015,0.025,0.028,0.025,0.03,0.04,0.03,0.035,0.03,0.04,
  0.03,0.035,0.03,0.04,0.028,0.035,0.025,0.035,0.025,0.03,
  0.02,0.012,0.005,0.048,
  0.042,0.039,0.037,0.035,0.033,0.032,0.03,0.029,0.028,0.026,
  0.025,0.024,0.022,0.021,0.02,0.019,0.018,0.017,0.016,0.015,
  0.014,0.013,0.012,0.011,0.01,0.009,0.009,0.008,0.008,0.007,
  0.007,0.006,0.006,0.006,0.005,0.005,0.02,0.01,0.008,0.01,
  0.012,0.015,0.01,0.015,0.02,0.03,0.02,0.03,0.04,0.03,
  0.03,0.02,0.03,0.02,0.03,0.02,0.04,0.02,0.03,0.02,
  0.03,0.02,0.03,0.01,0.03,0.04,0.02,0.02,0.01,0.03,
  0.02,0.03,0.03,0.02
];

// ---- Instrument noise NeDT at 280 K ----
const nedtWavenumbers = [
  645,647,650,655,660,670,680,690,700,710,720,730,740,750,760,770,780,790,800,
  810,820,830,840,850,860,870,880,890,900,910,920,930,940,950,960,970,980,990,
  1000,1010,1020,1030,1040,1050,1060,1070,1080,1090,1100,1110,1120,1130,1140,
  1150,1160,1170,1180,1190,1200,1210,1220,1230,1240,1250,1260,1270,1280,1290,
  1300,1310,1320,1330,1340,1350,1360,1370,1380,1390,1400,1410,1420,1430,1440,
  1450,1460,1470,1480,1490,1500,1510,1520,1530,1540,1550,1560,1570,1580,1590,
  1600,1610,1620,1630,1640,1650,1660,1670,1680,1690,1700,1710,1720,1730,1740,
  1750,1760,1770,1780,1790,1800,1810,1820,1830,1840,1850,1860,1870,1880,1890,
  1900,1910,1920,1930,1940,1945,1950,1960,1970,1980,1990,2000,2010,2020,2030,
  2040,2050,2060,2070,2080,2090,2100,2110,2120,2130,2140,2150,2160,2170,2180,
  2190,2200,2210,2220,2230,2240,2250,2260,2270,2280,2290,2300,2310,2320,2330,
  2340,2350,2360,2370,2380,2390,2400,2410,2420,2430,2440,2450,2460,2470,2480,
  2490,2500,2510,2520,2530,2540,2550,2560,2570,2580,2590
];
const nedtValues = [
  0.383,0.29,0.262,0.24,0.216,0.19,0.17,0.155,0.144,0.136,0.131,0.129,0.128,0.127,0.126,0.126,0.126,0.128,0.129,
  0.131,0.132,0.133,0.134,0.136,0.137,0.139,0.142,0.146,0.145,0.147,0.149,0.151,0.153,0.156,0.157,0.158,0.158,0.16,
  0.163,0.169,0.174,0.176,0.18,0.184,0.187,0.192,0.199,0.206,0.211,0.215,0.218,0.219,0.218,
  0.214,0.205,0.185,0.14,0.092,0.06,0.044,0.038,0.037,0.037,0.037,0.038,0.039,0.04,0.041,
  0.042,0.043,0.044,0.046,0.048,0.05,0.051,0.052,0.053,0.054,0.055,0.058,0.061,0.066,0.07,
  0.072,0.074,0.076,0.078,0.08,0.084,0.088,0.094,0.099,0.103,0.106,0.108,0.113,0.12,0.128,
  0.135,0.142,0.15,0.156,0.16,0.164,0.163,0.16,0.156,0.155,0.158,0.165,0.172,0.175,0.175,
  0.174,0.18,0.188,0.196,0.2,0.206,0.214,0.228,0.248,0.256,0.256,0.256,0.264,0.274,0.283,
  0.295,0.312,0.337,0.357,0.368,0.367,0.355,0.305,0.228,0.17,0.134,0.12,0.112,0.108,0.107,
  0.109,0.112,0.116,0.121,0.126,0.131,0.137,0.143,0.149,0.155,0.161,0.168,0.177,0.186,0.195,
  0.205,0.215,0.225,0.235,0.245,0.255,0.265,0.275,0.285,0.296,0.308,0.32,0.334,0.348,0.363,
  0.379,0.396,0.416,0.437,0.46,0.484,0.51,0.536,0.563,0.59,0.617,0.645,0.673,0.702,0.731,
  0.76,0.79,0.819,0.848,0.877,0.906,0.935,0.964,0.992,1.02,1.05
];

// axis tick values
const xMajorTicks = [1000, 1500, 2000, 2500];
const xMinorTicks = d3.range(600, 2801, 100);
const biasMajorTicks = [-0.6, -0.4, -0.2, 0.0, 0.2, 0.4, 0.6];
const biasMinorTicks = d3.range(-0.6, 0.6001, 0.05);
const stdMajorTicks = [0.0, 0.2, 0.4, 0.6, 0.8, 1.0];
const stdMinorTicks = d3.range(0, 1.0001, 0.05);

const svg = d3.select("#chart");
const axisColor = "#555";

const x = d3.scaleLinear().domain([600, 2800]).range([60.5, 1017.5]);
const yBias = d3.scaleLinear().domain([-0.6, 0.6]).range([287.5, 23.5]);
const yStd = d3.scaleLinear().domain([0, 1]).range([615.5, 352.5]);

// framed plot area with inward ticks on all four sides
function panel(y, majorY, minorY, fmt, id) {
  const [y0, y1] = y.range();
  const g = svg.append("g");
  g.append("clipPath").attr("id", id).append("rect")
    .attr("x", x.range()[0]).attr("y", y1)
    .attr("width", x.range()[1] - x.range()[0]).attr("height", y0 - y1);

  const styleAxis = sel => {
    sel.select(".domain").remove();
    sel.selectAll(".tick line").attr("stroke", axisColor).attr("stroke-width", 1);
    sel.selectAll(".tick text").attr("fill", "#000").attr("font-size", 11.5)
      .attr("font-family", "DejaVu Sans").attr("font-weight", "bold");
  };
  g.append("g").attr("transform", `translate(0,${y0})`)
    .call(d3.axisBottom(x).tickValues(xMinorTicks).tickSize(-10).tickFormat("")).call(styleAxis);
  g.append("g").attr("transform", `translate(0,${y0})`)
    .call(d3.axisBottom(x).tickValues(xMajorTicks).tickSize(-20).tickPadding(5).tickFormat(d3.format("d"))).call(styleAxis);
  g.append("g").attr("transform", `translate(0,${y1})`)
    .call(d3.axisTop(x).tickValues(xMinorTicks).tickSize(-10).tickFormat("")).call(styleAxis);
  g.append("g").attr("transform", `translate(0,${y1})`)
    .call(d3.axisTop(x).tickValues(xMajorTicks).tickSize(-20).tickFormat("")).call(styleAxis);
  g.append("g").attr("transform", `translate(${x.range()[0]},0)`)
    .call(d3.axisLeft(y).tickValues(minorY).tickSize(-10).tickFormat("")).call(styleAxis);
  g.append("g").attr("transform", `translate(${x.range()[0]},0)`)
    .call(d3.axisLeft(y).tickValues(majorY).tickSize(-20).tickPadding(7.5).tickFormat(fmt)).call(styleAxis);
  g.append("g").attr("transform", `translate(${x.range()[1]},0)`)
    .call(d3.axisRight(y).tickValues(minorY).tickSize(-10).tickFormat("")).call(styleAxis);
  g.append("g").attr("transform", `translate(${x.range()[1]},0)`)
    .call(d3.axisRight(y).tickValues(majorY).tickSize(-20).tickFormat("")).call(styleAxis);

  g.append("rect").attr("x", x.range()[0]).attr("y", y1)
    .attr("width", x.range()[1] - x.range()[0]).attr("height", y0 - y1)
    .attr("fill", "none").attr("stroke", axisColor).attr("stroke-width", 1);
  return g;
}

function xTitle(g, yPos) {
  const t = g.append("text").attr("x", 539).attr("y", yPos).attr("text-anchor", "middle")
    .attr("font-size", 12).attr("fill", "#000");
  t.append("tspan").text("Wavenumber [cm");
  t.append("tspan").text("-1").attr("font-size", 7).attr("dy", -5);
  t.append("tspan").text("]").attr("dy", 5);
}

// merge main and half-step channels into one spectrum ordered by wavenumber
function spectrum(main, half) {
  return d3.sort(d3.zip(wavenumbers, main).concat(d3.zip(wavenumbersHalf, half)), d => d[0]);
}

function drawSeries(g, y, points, color, clipId) {
  const line = d3.line().x(d => x(d[0])).y(d => y(d[1]));
  g.append("path").datum(points)
    .attr("d", line).attr("fill", "none").attr("stroke", color)
    .attr("stroke-width", 1).attr("stroke-linejoin", "round")
    .attr("clip-path", `url(#${clipId})`);
}

// ---------- top panel: BT bias ----------
const fmt1 = d3.format(".1f");
const biasPanel = panel(yBias, biasMajorTicks, biasMinorTicks, d => fmt1(d).replace("\u2212", "-"), "clipTop");
[[biasP7, biasP7Half], [biasP8, biasP8Half], [biasP9, biasP9Half]]
  .forEach(([m, h], i) => drawSeries(biasPanel, yBias, spectrum(m, h), seriesColors[i], "clipTop"));

svg.append("text").attr("x", 539).attr("y", 13).attr("text-anchor", "middle")
  .attr("font-size", 12).attr("fill", "#000").text("IASI Predictors validation");
svg.append("text").attr("transform", "translate(19.5,155.5) rotate(-90)")
  .attr("text-anchor", "middle").attr("font-size", 12).attr("fill", "#000").text("BT Bias [K]");
xTitle(svg, 314);

const lg = svg.append("g");
lg.append("rect").attr("x", 539.5).attr("y", 241.5).attr("width", 446).attr("height", 32)
  .attr("fill", "#fff").attr("stroke", "#d4d4d4").attr("stroke-width", 1);
seriesNames.forEach((name, i) => {
  const x0 = 552.5 + i * 149;
  lg.append("line").attr("x1", x0).attr("x2", x0 + 17).attr("y1", 251.5).attr("y2", 251.5)
    .attr("stroke", seriesColors[i]).attr("stroke-width", 1.3);
  lg.append("text").attr("x", x0 + 30).attr("y", 256).attr("font-size", 12)
    .attr("fill", seriesColors[i]).text(name);
});

// ---------- bottom panel: StDev ----------
const stdPanel = panel(yStd, stdMajorTicks, stdMinorTicks, fmt1, "clipBottom");
[[stdP7, stdP7Half], [stdP8, stdP8Half], [stdP9, stdP9Half]]
  .forEach(([m, h], i) => drawSeries(stdPanel, yStd, spectrum(m, h), seriesColors[i], "clipBottom"));
stdPanel.append("path")
  .datum(d3.zip(nedtWavenumbers, nedtValues))
  .attr("d", d3.line().x(d => x(d[0])).y(d => yStd(d[1])))
  .attr("fill", "none").attr("stroke", "#000").attr("stroke-width", 2)
  .attr("clip-path", "url(#clipBottom)");

svg.append("text").attr("transform", "translate(24.5,484) rotate(-90)")
  .attr("text-anchor", "middle").attr("font-size", 12).attr("fill", "#000").text("NEDT StDev [K]");
xTitle(svg, 643);

const lg2 = svg.append("g");
lg2.append("rect").attr("x", 740.5).attr("y", 372.5).attr("width", 141).attr("height", 32)
  .attr("fill", "#fff").attr("stroke", "#d4d4d4").attr("stroke-width", 1);
lg2.append("line").attr("x1", 753).attr("x2", 770).attr("y1", 383.5).attr("y2", 383.5)
  .attr("stroke", "#000").attr("stroke-width", 1.5);
lg2.append("text").attr("x", 783).attr("y", 389).attr("font-size", 12).attr("fill", "#000").text("NeDT@280K");
</script>
</body>
</html>
